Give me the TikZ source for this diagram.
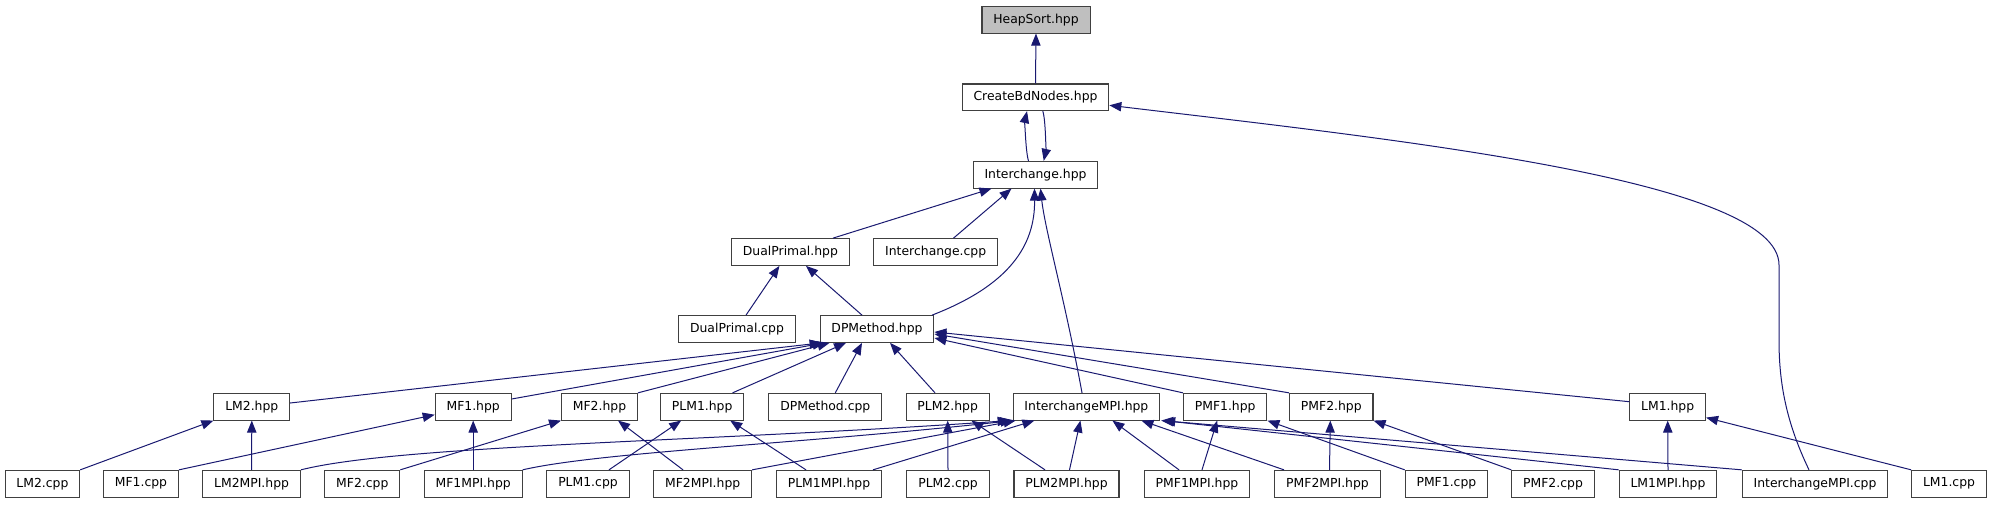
\documentclass[tikz,border=0pt]{standalone}
\usepackage{fontspec}
\setmainfont{DejaVu Sans}
\usetikzlibrary{arrows.meta,calc}
\definecolor{edgeblue}{HTML}{191970}
\begin{document}
\begin{tikzpicture}[x=0.75pt,y=-0.75pt,
  file/.style={draw=black!75,line width=0.8pt,fill=white,minimum height=20pt,
    inner xsep=8.5pt,inner ysep=0pt,font=\fontsize{9.3}{11}\selectfont},
  topfile/.style={file,fill=black!25},
  inc/.style={draw=edgeblue,line width=0.75pt,-{Triangle[length=9pt,width=7pt]}}]

% Rows (pixel units, y going down)
\def\yA{19.7}
\def\yB{97.3}
\def\yC{174.7}
\def\yD{252}
\def\yE{329}
\def\yF{406.7}
\def\yG{483.7}

\useasboundingbox (0,0) rectangle (1992,504);

% Upper part of the graph
\node[topfile] (hs)   at (1036,\yA)   {HeapSort.hpp};
\node[file]    (cbn)  at (1035.5,\yB) {CreateBdNodes.hpp};
\node[file]    (ich)  at (1035.5,\yC) {Interchange.hpp};
\node[file]    (dph)  at (790.4,\yD)  {DualPrimal.hpp};
\node[file]    (icc)  at (935.7,\yD)  {Interchange.cpp};
\node[file]    (dpc)  at (737,\yE)    {DualPrimal.cpp};
\node[file]    (dpmh) at (877,\yE)    {DPMethod.hpp};

% Headers row
\node[file] (lm2h)  at (251.8,\yF)  {LM2.hpp};
\node[file] (mf1h)  at (473.2,\yF)  {MF1.hpp};
\node[file] (mf2h)  at (599.5,\yF)  {MF2.hpp};
\node[file] (plm1h) at (702.2,\yF)  {PLM1.hpp};
\node[file] (dpmc)  at (825.3,\yF)  {DPMethod.cpp};
\node[file] (plm2h) at (947.7,\yF)  {PLM2.hpp};
\node[file] (impih) at (1086.4,\yF) {InterchangeMPI.hpp};
\node[file] (pmf1h) at (1225.2,\yF) {PMF1.hpp};
\node[file] (pmf2h) at (1331.3,\yF) {PMF2.hpp};
\node[file] (lm1h)  at (1667.7,\yF) {LM1.hpp};

% Bottom row
\node[file] (lm2c)  at (42.4,\yG)   {LM2.cpp};
\node[file] (mf1c)  at (141,\yG)    {MF1.cpp};
\node[file] (lm2m)  at (251.6,\yG)  {LM2MPI.hpp};
\node[file] (mf2c)  at (362.3,\yG)  {MF2.cpp};
\node[file] (mf1m)  at (473.2,\yG)  {MF1MPI.hpp};
\node[file] (plm1c) at (588,\yG)    {PLM1.cpp};
\node[file] (mf2m)  at (702.7,\yG)  {MF2MPI.hpp};
\node[file] (plm1m) at (829,\yG)    {PLM1MPI.hpp};
\node[file] (plm2c) at (948,\yG)    {PLM2.cpp};
\node[file] (plm2m) at (1066.5,\yG) {PLM2MPI.hpp};
\node[file] (pmf1m) at (1197,\yG)   {PMF1MPI.hpp};
\node[file] (pmf2m) at (1327.5,\yG) {PMF2MPI.hpp};
\node[file] (pmf1c) at (1446.4,\yG) {PMF1.cpp};
\node[file] (pmf2c) at (1553,\yG)   {PMF2.cpp};
\node[file] (lm1m)  at (1668,\yG)   {LM1MPI.hpp};
\node[file] (impic) at (1815,\yG)   {InterchangeMPI.cpp};
\node[file] (lm1c)  at (1949,\yG)   {LM1.cpp};

% Top edges
\draw[inc] (cbn.north) -- (hs.south);
\draw[inc] ($(ich.north)+(-7,0)$) .. controls +(-3,-9) and +(-2,9) .. ($(cbn.south)+(-8.5,0)$);
\draw[inc] ($(cbn.south)+(7.3,0)$) .. controls +(3,9) and +(2,-9) .. ($(ich.north)+(8.2,0)$);
\draw[inc] ($(impic.north)+(-6,0)$) .. controls (1785,420) and (1779,380) .. (1779,340)
  -- (1779,265) .. controls (1779,180) and (1400,140) .. ($(cbn.east)+(0,8)$);

% Into Interchange.hpp
\draw[inc] ($(dph.north)+(42.6,0)$) -- ($(ich.south)+(-44,0)$);
\draw[inc] ($(icc.north)+(17.8,0)$) -- ($(ich.south)+(-24,0)$);
\draw[inc] ($(dpmh.north)+(55,0)$) .. controls (1010,285) and (1035,245) .. ($(ich.south)+(-1,0)$);
\draw[inc] ($(impih.north)+(-4.4,0)$) .. controls (1065,300) and (1045,230) .. ($(ich.south)+(5,0)$);

% Into DualPrimal.hpp
\draw[inc] ($(dpc.north)+(9,0)$) -- ($(dph.south)+(-11,0)$);
\draw[inc] ($(dpmh.north)+(-15,0)$) -- ($(dph.south)+(15.6,0)$);

% Into DPMethod.hpp
\draw[inc] ($(lm2h.east)+(0,-3.7)$) -- ($(dpmh.south west)+(2,0)$);
\draw[inc] ($(mf1h.east)+(0,-7.7)$) -- ($(dpmh.south west)+(5,0)$);
\draw[inc] (mf2h.north east) -- ($(dpmh.south west)+(10,0)$);
\draw[inc] ($(plm1h.north)+(30.4,0)$) -- ($(dpmh.south)+(-31,0)$);
\draw[inc] ($(dpmc.north)+(10,0)$) -- ($(dpmh.south)+(-15,0)$);
\draw[inc] ($(plm2h.north)+(-12.7,0)$) -- ($(dpmh.south)+(13,0)$);
\draw[inc] (pmf1h.north west) -- ($(dpmh.east)+(0,9)$);
\draw[inc] (pmf2h.north west) -- ($(dpmh.east)+(0,5)$);
\draw[inc] ($(lm1h.west)+(0,-5)$) -- ($(dpmh.east)+(0,3)$);

% Into the headers row
\draw[inc] (lm2c.north east) -- (lm2h.south west);
\draw[inc] (lm2m.north) -- (lm2h.south);
\draw[inc] (mf1c.north east) -- ($(mf1h.west)+(0,8)$);
\draw[inc] (mf1m.north) -- (mf1h.south);
\draw[inc] (mf2c.north east) -- (mf2h.south west);
\draw[inc] ($(mf2m.north)+(-19.7,0)$) -- ($(mf2h.south)+(18.5,0)$);
\draw[inc] ($(plm1c.north)+(21,0)$) -- ($(plm1h.south)+(-21,0)$);
\draw[inc] ($(plm1m.north)+(-23,0)$) -- ($(plm1h.south)+(28,0)$);
\draw[inc] (plm2c.north) -- (plm2h.south);
\draw[inc] ($(plm2m.north)+(-21.5,0)$) -- ($(plm2h.south)+(23.7,0)$);
\draw[inc] ($(pmf1m.north)+(5,0)$) -- ($(pmf1h.south)+(-8,0)$);
\draw[inc] (pmf1c.north west) -- (pmf1h.south east);
\draw[inc] ($(pmf2m.north)+(2,0)$) -- ($(pmf2h.south)+(-1,0)$);
\draw[inc] (pmf2c.north west) -- (pmf2h.south east);
\draw[inc] (lm1m.north) -- (lm1h.south);
\draw[inc] (lm1c.north west) -- ($(lm1h.south east)+(0,-3)$);

% Into InterchangeMPI.hpp
\draw[inc] (lm2m.north east) .. controls (400,445) and (700,442) .. ($(impih.south west)+(-3,0)$);
\draw[inc] (mf1m.north east) .. controls (600,452) and (800,444) .. (impih.south west);
\draw[inc] (mf2m.north east) -- ($(impih.south west)+(3,0)$);
\draw[inc] ($(plm1m.north)+(44,0)$) -- ($(impih.south)+(-52,0)$);
\draw[inc] ($(plm2m.north)+(3,0)$) -- ($(impih.south)+(-6,0)$);
\draw[inc] ($(pmf1m.north)+(-18,0)$) -- ($(impih.south)+(26,0)$);
\draw[inc] ($(pmf2m.north)+(-43.5,0)$) -- ($(impih.south)+(55,0)$);
\draw[inc] (lm1m.north west) -- ($(impih.south east)+(3,0)$);
\draw[inc] (impic.north west) -- ($(impih.south east)+(1,0)$);

\end{tikzpicture}
\end{document}
